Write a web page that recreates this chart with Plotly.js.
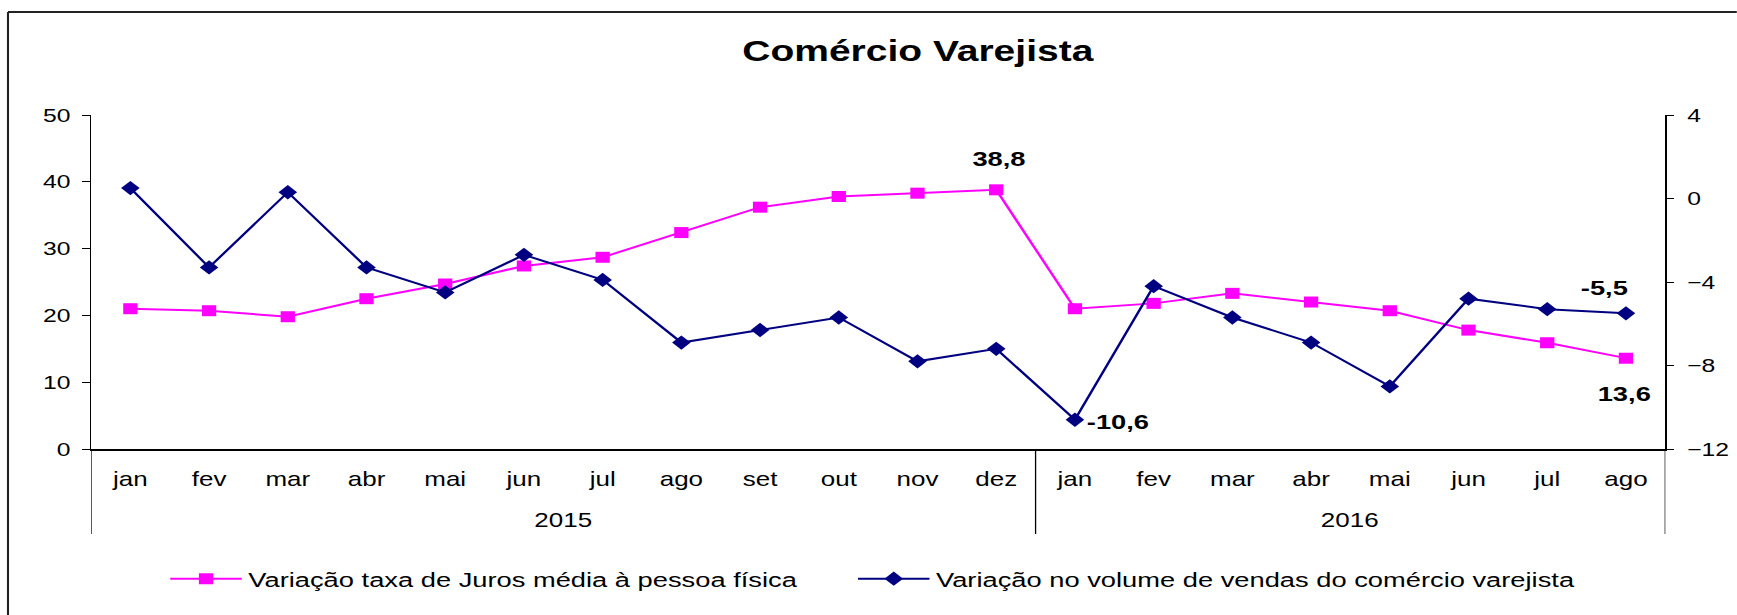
<!DOCTYPE html>
<html>
<head>
<meta charset="utf-8">
<script src="https://cdn.plot.ly/plotly-3.0.1.min.js"></script>
<style>
  html, body { margin: 0; padding: 0; background: #fff; overflow: hidden; }
  #wrap { width: 1737px; height: 615px; overflow: hidden; position: relative; }
  #chart { height: 615px; transform-origin: 0 0; }
</style>
</head>
<body>
<div id="wrap"><div id="chart"></div></div>
<script>
// ---- data ----
const years  = ['2015','2015','2015','2015','2015','2015','2015','2015','2015','2015','2015','2015',
                '2016','2016','2016','2016','2016','2016','2016','2016'];
const months = ['jan','fev','mar','abr','mai','jun','jul','ago','set','out','nov','dez',
                'jan','fev','mar','abr','mai','jun','jul','ago'];
const juros  = [21.0, 20.7, 19.8, 22.5, 24.7, 27.4, 28.7, 32.4, 36.2, 37.8, 38.3, 38.8,
                21.0, 21.8, 23.3, 22.0, 20.7, 17.8, 15.9, 13.6];
const vendas = [0.5, -3.3, 0.3, -3.3, -4.5, -2.7, -3.9, -6.9, -6.3, -5.7, -7.8, -7.2,
                -10.6, -4.2, -5.7, -6.9, -9.0, -4.8, -5.3, -5.5];
const seriesNames = ['Variação taxa de Juros média à pessoa física',
                     'Variação no volume de vendas do comércio varejista'];
const leftTicks  = [0, 10, 20, 30, 40, 50];
const rightTicks = [-12, -8, -4, 0, 4];

// ---- geometry (the reference is horizontally stretched) ----
const SX = 1.3;
const W = 1737 / SX;
const H = 615;
const mL = 70, mR = W - 1280.8, mT = 115, mB = 166;
const plotW = W - mL - mR, plotH = H - mT - mB;
const el = document.getElementById('chart');
el.style.width = W + 'px';
el.style.transform = 'scaleX(' + SX + ')';

const FONT = 'Liberation Sans, Arial, sans-serif';
const fmt = v => v.toFixed(1).replace('.', ',');
const idx = months.map((m, i) => i);

const traces = [
  {
    x: idx, y: juros, name: seriesNames[0], type: 'scatter', mode: 'lines+markers',
    line: { color: '#FF00FF', width: 2 },
    marker: { symbol: 'square', size: 11, color: '#FF00FF' },
    yaxis: 'y', cliponaxis: false, legend: 'legend'
  },
  {
    x: idx, y: vendas, name: seriesNames[1], type: 'scatter', mode: 'lines+markers',
    line: { color: '#000080', width: 2 },
    marker: { symbol: 'diamond', size: 11, color: '#000080' },
    yaxis: 'y2', cliponaxis: false, legend: 'legend2'
  }
];

const xp = u => (u - mL) / plotW;
const yp = py => (H - mB - py) / plotH;

// year groups -> labels and dividers
const groups = [];
years.forEach((y, i) => {
  const g = groups[groups.length - 1];
  if (g && g.year === y) g.last = i; else groups.push({ year: y, first: i, last: i });
});

const iDez = 11, iLast = months.length - 1, iJan16 = 12;
const annFont = { family: FONT, size: 21, color: '#000', weight: 'bold' };
const annotations = [
  { x: iDez, y: juros[iDez], xref: 'x', yref: 'y', text: fmt(juros[iDez]), showarrow: false,
    font: annFont, xshift: 2, yshift: 31 },
  { x: iLast, y: juros[iLast], xref: 'x', yref: 'y', text: fmt(juros[iLast]), showarrow: false,
    font: annFont, xshift: -1, yshift: -35 },
  { x: iLast, y: vendas[iLast], xref: 'x', yref: 'y2', text: fmt(vendas[iLast]), showarrow: false,
    font: annFont, xshift: -16, yshift: 26 },
  { x: iJan16, y: vendas[iJan16], xref: 'x', yref: 'y2', text: fmt(vendas[iJan16]), showarrow: false,
    font: annFont, xanchor: 'left', xshift: 7, yshift: -2 }
];
groups.forEach(g => annotations.push({
  x: (g.first + g.last) / 2, xref: 'x', y: yp(520), yref: 'paper', yanchor: 'middle',
  text: g.year, showarrow: false, font: { family: FONT, size: 20, color: '#000' }
}));

const shapes = [
  { type: 'line', xref: 'paper', yref: 'paper', x0: xp(8 / SX), x1: xp(W + 20), y0: yp(12), y1: yp(12),
    line: { color: '#222', width: 2 } },
  { type: 'line', xref: 'paper', yref: 'paper', x0: xp(8 / SX), x1: xp(8 / SX), y0: yp(12), y1: yp(H + 20),
    line: { color: '#222', width: 1.6 } }
];
const bounds = [groups[0].first - 0.5].concat(groups.map(g => g.last + 0.5));
bounds.forEach(b => shapes.push({
  type: 'line', xref: 'x', yref: 'paper', x0: b, x1: b, y0: 0, y1: yp(534),
  line: { color: '#000', width: 1 }
}));

const legendBase = {
  orientation: 'h',
  xref: 'container', yref: 'container',
  xanchor: 'left',
  y: 1 - 579 / H, yanchor: 'middle',
  font: { family: FONT, size: 21, color: '#000' },
  itemwidth: 55,
  bgcolor: 'rgba(0,0,0,0)'
};

const layout = {
  width: W, height: H,
  margin: { l: mL, r: mR, t: mT, b: mB, pad: 0 },
  paper_bgcolor: '#fff', plot_bgcolor: 'rgba(0,0,0,0)',
  font: { family: FONT, size: 20, color: '#000' },
  showlegend: true,
  title: {
    text: 'Comércio Varejista',
    font: { family: FONT, size: 30, color: '#000', weight: 'bold' },
    xref: 'container', x: 706 / W, xanchor: 'center',
    yref: 'container', y: 1 - 51 / H, yanchor: 'middle'
  },
  xaxis: {
    type: 'linear',
    range: [-0.5, months.length - 0.5],
    tickvals: idx, ticktext: months,
    showgrid: false, zeroline: false,
    showline: true, linecolor: '#000', linewidth: 1.5,
    ticks: '', tickfont: { family: FONT, size: 20, color: '#000' },
    ticklabelstandoff: 12
  },
  yaxis: {
    range: [0, 50], tickvals: leftTicks,
    showgrid: false, zeroline: false,
    showline: true, linecolor: '#000', linewidth: 1,
    ticks: 'outside', ticklen: 6, tickcolor: '#000', tickwidth: 1,
    tickfont: { family: FONT, size: 19, color: '#000' },
    ticklabelstandoff: 5
  },
  yaxis2: {
    range: [-12, 4], tickvals: rightTicks,
    overlaying: 'y', side: 'right', anchor: 'x',
    showgrid: false, zeroline: false,
    showline: true, linecolor: '#000', linewidth: 1,
    ticks: 'outside', ticklen: 6, tickcolor: '#000', tickwidth: 1,
    tickfont: { family: FONT, size: 19, color: '#000' },
    ticklabelstandoff: 6
  },
  legend: Object.assign({}, legendBase, { x: 126 / W }),
  legend2: Object.assign({}, legendBase, { x: 655 / W }),
  annotations: annotations,
  shapes: shapes
};

Plotly.newPlot(el, traces, layout, { displayModeBar: false, responsive: false, staticPlot: true });
</script>
</body>
</html>
